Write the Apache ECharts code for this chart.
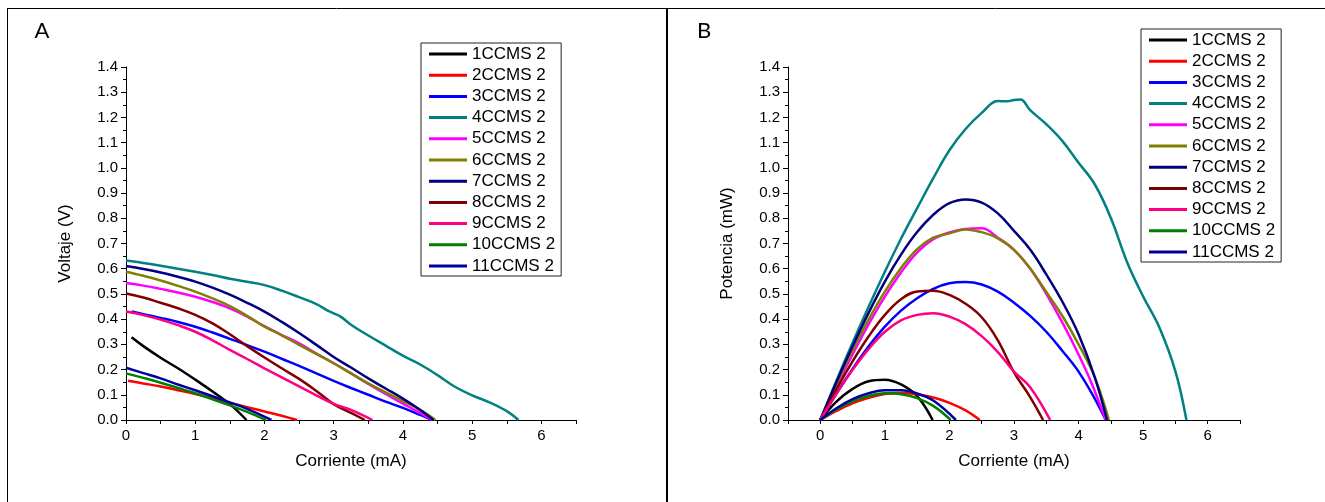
<!DOCTYPE html>
<html>
<head>
<meta charset="utf-8">
<script src="https://cdn.jsdelivr.net/npm/echarts@6/dist/echarts.min.js"></script>
<style>
  html, body { margin: 0; padding: 0; background: #fff; }
  #chart { width: 1325px; height: 502px; }
</style>
</head>
<body>
<div id="chart"></div>
<script>
// Muestras y colores
const seriesNames = ['1CCMS 2', '2CCMS 2', '3CCMS 2', '4CCMS 2', '5CCMS 2', '6CCMS 2',
                     '7CCMS 2', '8CCMS 2', '9CCMS 2', '10CCMS 2', '11CCMS 2'];
const seriesColors = ['#000000', '#ff0000', '#0000ff', '#008080', '#ff00ff', '#808000',
                      '#000080', '#800000', '#ff0080', '#008000', '#0000a0'];

// Curvas de polarización: corriente (mA) y voltaje (V)
const corrienteV1 = [0.08, 0.25, 0.5, 0.75, 1.0, 1.25, 1.5, 1.74];
const voltaje1    = [0.328, 0.293, 0.247, 0.205, 0.16, 0.113, 0.063, 0];
const corrienteV2 = [0.03, 0.25, 0.5, 0.75, 1.0, 1.25, 1.5, 1.75, 2.0, 2.25, 2.47];
const voltaje2    = [0.156, 0.145, 0.133, 0.118, 0.103, 0.086, 0.068, 0.051, 0.034, 0.017, 0];
const corrienteV3 = [0.08, 0.25, 0.5, 0.75, 1.0, 1.25, 1.5, 1.75, 2.0, 2.25, 2.5, 2.75, 3.0, 3.25, 3.5, 3.75, 4.0, 4.25, 4.42];
const voltaje3    = [0.43, 0.42, 0.405, 0.389, 0.37, 0.347, 0.322, 0.297, 0.271, 0.243, 0.215, 0.185, 0.155, 0.127, 0.1, 0.073, 0.048, 0.02, 0];
const corrienteV4 = [0, 0.25, 0.5, 0.75, 1.0, 1.25, 1.5, 1.75, 2.0, 2.25, 2.5, 2.75, 2.9, 3.0, 3.1, 3.25, 3.5, 3.75, 4.0, 4.25, 4.5, 4.75, 5.0, 5.25, 5.5, 5.67];
const voltaje4    = [0.633, 0.623, 0.612, 0.6, 0.588, 0.575, 0.56, 0.548, 0.535, 0.513, 0.487, 0.46, 0.436, 0.423, 0.41, 0.378, 0.335, 0.295, 0.255, 0.22, 0.178, 0.132, 0.098, 0.07, 0.035, 0];
const corrienteV5 = [0, 0.25, 0.5, 0.75, 1.0, 1.25, 1.5, 1.75, 2.0, 2.25, 2.5, 2.75, 3.0, 3.25, 3.5, 3.75, 4.0, 4.2, 4.42];
const voltaje5    = [0.543, 0.533, 0.52, 0.506, 0.489, 0.468, 0.443, 0.41, 0.372, 0.337, 0.304, 0.263, 0.225, 0.185, 0.143, 0.103, 0.065, 0.035, 0];
const corrienteV6 = [0, 0.25, 0.5, 0.75, 1.0, 1.25, 1.5, 1.75, 2.0, 2.25, 2.5, 2.75, 3.0, 3.25, 3.5, 3.75, 4.0, 4.25, 4.47];
const voltaje6    = [0.588, 0.572, 0.553, 0.532, 0.509, 0.482, 0.452, 0.413, 0.37, 0.336, 0.298, 0.262, 0.225, 0.185, 0.145, 0.11, 0.075, 0.04, 0];
const corrienteV7 = [0, 0.25, 0.5, 0.75, 1.0, 1.25, 1.5, 1.75, 2.0, 2.25, 2.5, 2.75, 3.0, 3.25, 3.5, 3.75, 4.0, 4.25, 4.44];
const voltaje7    = [0.611, 0.599, 0.585, 0.568, 0.549, 0.525, 0.497, 0.465, 0.43, 0.389, 0.345, 0.298, 0.25, 0.208, 0.165, 0.125, 0.085, 0.04, 0];
const corrienteV8 = [0, 0.25, 0.5, 0.75, 1.0, 1.25, 1.5, 1.75, 2.0, 2.25, 2.5, 2.75, 3.0, 3.25, 3.45];
const voltaje8    = [0.502, 0.486, 0.465, 0.443, 0.417, 0.383, 0.34, 0.293, 0.248, 0.205, 0.163, 0.115, 0.063, 0.028, 0];
const corrienteV9 = [0, 0.25, 0.5, 0.75, 1.0, 1.25, 1.5, 1.75, 2.0, 2.25, 2.5, 2.75, 3.0, 3.25, 3.56];
const voltaje9    = [0.43, 0.416, 0.398, 0.376, 0.35, 0.316, 0.278, 0.242, 0.205, 0.169, 0.133, 0.098, 0.064, 0.04, 0];
const corrienteV10 = [0, 0.25, 0.5, 0.75, 1.0, 1.25, 1.5, 1.75, 2.02];
const voltaje10    = [0.185, 0.167, 0.148, 0.127, 0.106, 0.082, 0.058, 0.032, 0];
const corrienteV11 = [0, 0.25, 0.5, 0.75, 1.0, 1.25, 1.5, 1.75, 2.1];
const voltaje11    = [0.207, 0.186, 0.165, 0.141, 0.118, 0.094, 0.07, 0.044, 0];

// Curvas de potencia: corriente (mA) y potencia (mW)
const corrienteP1 = [0, 0.25, 0.5, 0.75, 1.0, 1.25, 1.5, 1.74];
const potencia1   = [0, 0.073, 0.1235, 0.154, 0.16, 0.141, 0.0945, 0];
const corrienteP2 = [0, 0.25, 0.5, 0.75, 1.0, 1.25, 1.5, 1.75, 2.0, 2.25, 2.47];
const potencia2   = [0, 0.036, 0.0665, 0.0885, 0.103, 0.1075, 0.102, 0.089, 0.068, 0.038, 0];
const corrienteP3 = [0, 0.25, 0.5, 0.75, 1.0, 1.25, 1.5, 1.75, 2.0, 2.25, 2.5, 2.75, 3.0, 3.25, 3.5, 3.75, 4.0, 4.25, 4.42];
const potencia3   = [0, 0.105, 0.2025, 0.292, 0.37, 0.434, 0.483, 0.52, 0.542, 0.547, 0.5375, 0.509, 0.465, 0.413, 0.35, 0.274, 0.192, 0.085, 0];
const corrienteP4 = [0, 0.25, 0.5, 0.75, 1.0, 1.25, 1.5, 1.75, 2.0, 2.25, 2.5, 2.75, 2.9, 3.0, 3.1, 3.25, 3.5, 3.75, 4.0, 4.25, 4.5, 4.75, 5.0, 5.25, 5.5, 5.67];
const potencia4   = [0, 0.156, 0.306, 0.45, 0.588, 0.719, 0.84, 0.959, 1.07, 1.154, 1.218, 1.265, 1.264, 1.269, 1.271, 1.229, 1.173, 1.106, 1.02, 0.935, 0.801, 0.627, 0.49, 0.368, 0.193, 0];
const corrienteP5 = [0, 0.25, 0.5, 0.75, 1.0, 1.25, 1.5, 1.75, 2.0, 2.25, 2.5, 2.75, 3.0, 3.25, 3.5, 3.75, 4.0, 4.2, 4.42];
const potencia5   = [0, 0.133, 0.26, 0.38, 0.489, 0.585, 0.665, 0.7175, 0.744, 0.758, 0.76, 0.723, 0.675, 0.601, 0.5005, 0.386, 0.26, 0.147, 0];
const corrienteP6 = [0, 0.25, 0.5, 0.75, 1.0, 1.25, 1.5, 1.75, 2.0, 2.25, 2.5, 2.75, 3.0, 3.25, 3.5, 3.75, 4.0, 4.25, 4.47];
const potencia6   = [0, 0.143, 0.2765, 0.399, 0.509, 0.6025, 0.678, 0.723, 0.74, 0.756, 0.745, 0.7205, 0.675, 0.601, 0.5075, 0.4125, 0.3, 0.17, 0];
const corrienteP7 = [0, 0.25, 0.5, 0.75, 1.0, 1.25, 1.5, 1.75, 2.0, 2.25, 2.5, 2.75, 3.0, 3.25, 3.5, 3.75, 4.0, 4.25, 4.44];
const potencia7   = [0, 0.15, 0.2925, 0.426, 0.549, 0.656, 0.7455, 0.814, 0.86, 0.875, 0.8625, 0.8195, 0.75, 0.676, 0.5775, 0.469, 0.34, 0.17, 0];
const corrienteP8 = [0, 0.25, 0.5, 0.75, 1.0, 1.25, 1.5, 1.75, 2.0, 2.25, 2.5, 2.75, 3.0, 3.25, 3.45];
const potencia8   = [0, 0.1215, 0.2325, 0.332, 0.417, 0.479, 0.51, 0.513, 0.496, 0.461, 0.4075, 0.316, 0.189, 0.091, 0];
const corrienteP9 = [0, 0.25, 0.5, 0.75, 1.0, 1.25, 1.5, 1.75, 2.0, 2.25, 2.5, 2.75, 3.0, 3.25, 3.56];
const potencia9   = [0, 0.104, 0.199, 0.282, 0.35, 0.395, 0.417, 0.4235, 0.41, 0.38, 0.3325, 0.2695, 0.192, 0.13, 0];
const corrienteP10 = [0, 0.25, 0.5, 0.75, 1.0, 1.25, 1.5, 1.75, 2.02];
const potencia10   = [0, 0.042, 0.074, 0.095, 0.106, 0.1025, 0.087, 0.056, 0];
const corrienteP11 = [0, 0.25, 0.5, 0.75, 1.0, 1.25, 1.5, 1.75, 2.1];
const potencia11   = [0, 0.0465, 0.0825, 0.106, 0.118, 0.1175, 0.105, 0.077, 0];

// Marcas de los ejes
const yTickValues = [0.0, 0.1, 0.2, 0.3, 0.4, 0.5, 0.6, 0.7, 0.8, 0.9, 1.0, 1.1, 1.2, 1.3, 1.4];
const xTickValues = [0, 1, 2, 3, 4, 5, 6];

const corrienteV = [corrienteV1, corrienteV2, corrienteV3, corrienteV4, corrienteV5, corrienteV6,
                    corrienteV7, corrienteV8, corrienteV9, corrienteV10, corrienteV11];
const voltaje = [voltaje1, voltaje2, voltaje3, voltaje4, voltaje5, voltaje6,
                 voltaje7, voltaje8, voltaje9, voltaje10, voltaje11];
const corrienteP = [corrienteP1, corrienteP2, corrienteP3, corrienteP4, corrienteP5, corrienteP6,
                    corrienteP7, corrienteP8, corrienteP9, corrienteP10, corrienteP11];
const potencia = [potencia1, potencia2, potencia3, potencia4, potencia5, potencia6,
                  potencia7, potencia8, potencia9, potencia10, potencia11];

const zip = (xs, ys) => xs.map((x, k) => [x, ys[k]]);

const FONT = "'Liberation Sans', Arial, sans-serif";
const ink = '#000';

function xAxisFor(gridIndex, min) {
  return {
    type: 'value', gridIndex, min, max: 6.5, interval: 0.5,
    name: 'Corriente (mA)', nameLocation: 'middle', nameGap: 33,
    nameTextStyle: { fontFamily: FONT, fontSize: 17, color: ink },
    axisLine: { show: true, onZero: false, lineStyle: { color: ink, width: 1 } },
    axisTick: { show: true, length: 4, lineStyle: { color: ink, width: 1 } },
    axisLabel: {
      interval: 0, margin: 8, fontFamily: FONT, fontSize: 15, color: ink,
      formatter: v => {
        const r = Math.round(v);
        return (Math.abs(v - r) < 1e-6 && xTickValues.includes(r)) ? String(r) : '';
      }
    },
    splitLine: { show: false }
  };
}

function yAxisFor(gridIndex, name) {
  return {
    type: 'value', gridIndex, min: 0, max: 1.4, interval: 0.1,
    name, nameLocation: 'middle', nameGap: 52,
    nameTextStyle: { fontFamily: FONT, fontSize: 17, color: ink },
    axisLine: { show: true, onZero: false, lineStyle: { color: ink, width: 1 } },
    axisTick: { show: true, length: 5, lineStyle: { color: ink, width: 1 } },
    minorTick: { show: true, splitNumber: 2, length: 3, lineStyle: { color: ink, width: 1 } },
    axisLabel: {
      margin: 8, fontFamily: FONT, fontSize: 15, color: ink,
      formatter: v => {
        const t = yTickValues.find(u => Math.abs(u - v) < 1e-6);
        return t === undefined ? '' : t.toFixed(1);
      }
    },
    splitLine: { show: false },
    minorSplitLine: { show: false }
  };
}

function legendAt(left, top) {
  return {
    orient: 'vertical', left, top,
    data: seriesNames,
    icon: 'rect', itemWidth: 38, itemHeight: 3, itemGap: 3.2,
    selectedMode: false,
    textStyle: { fontFamily: FONT, fontSize: 17, lineHeight: 18, color: ink },
    borderColor: '#222', borderWidth: 1,
    padding: [2, 6, 1, 8]
  };
}

const series = [];
seriesNames.forEach((name, k) => {
  const common = {
    type: 'line', name, smooth: 0.4,
    symbol: 'none', showSymbol: false,
    lineStyle: { color: seriesColors[k], width: 2.5 },
    itemStyle: { color: seriesColors[k] },
    emphasis: { disabled: true }
  };
  series.push(Object.assign({}, common, {
    xAxisIndex: 0, yAxisIndex: 0, data: zip(corrienteV[k], voltaje[k])
  }));
  series.push(Object.assign({}, common, {
    xAxisIndex: 1, yAxisIndex: 1, data: zip(corrienteP[k], potencia[k])
  }));
});

const chart = echarts.init(document.getElementById('chart'), null, { renderer: 'canvas' });
chart.setOption({
  animation: false,
  backgroundColor: '#fff',
  grid: [
    { left: 126, top: 67, width: 450, height: 353 },
    { left: 788, top: 67, width: 452, height: 353 }
  ],
  xAxis: [xAxisFor(0, 0), xAxisFor(1, -0.5)],
  yAxis: [yAxisFor(0, 'Voltaje (V)'), yAxisFor(1, 'Potencia (mW)')],
  legend: [legendAt(421, 43), legendAt(1141, 29)],
  series,
  graphic: [
    { type: 'line', silent: true, shape: { x1: 7, y1: 8.5, x2: 1325, y2: 8.5 }, style: { stroke: '#000', lineWidth: 1 } },
    { type: 'line', silent: true, shape: { x1: 7.5, y1: 8, x2: 7.5, y2: 502 }, style: { stroke: '#000', lineWidth: 1 } },
    { type: 'line', silent: true, shape: { x1: 667, y1: 8, x2: 667, y2: 502 }, style: { stroke: '#000', lineWidth: 2 } },
    { type: 'text', silent: true, x: 42, y: 31, style: { text: 'A', fontFamily: "Lato, 'Open Sans', sans-serif", fontSize: 22, fill: '#000', align: 'center', verticalAlign: 'middle' } },
    { type: 'text', silent: true, x: 704, y: 31, style: { text: 'B', fontFamily: "Lato, 'Open Sans', sans-serif", fontSize: 22, fill: '#000', align: 'center', verticalAlign: 'middle' } }
  ]
});
</script>
</body>
</html>
